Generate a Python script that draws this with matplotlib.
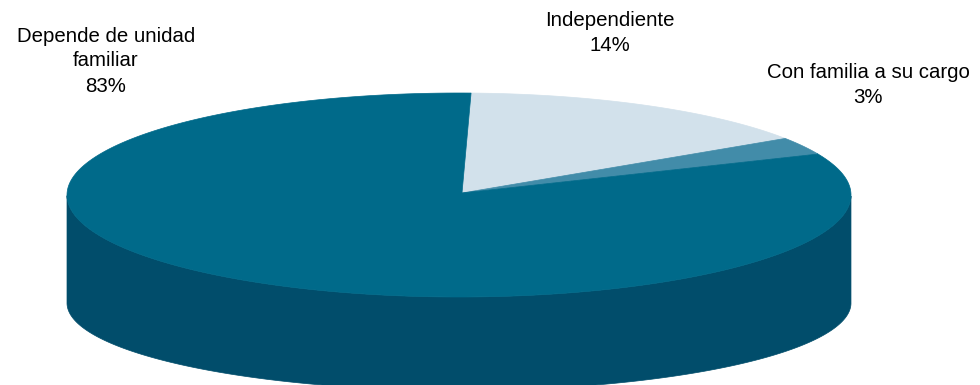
import numpy as np
import matplotlib
matplotlib.use('Agg')
import matplotlib.pyplot as plt
from matplotlib.patches import Polygon

# slices, clockwise from the top
categories = ['Independiente', 'Con familia a su cargo', 'Depende de unidad\nfamiliar']
values = [14, 3, 83]
top_colors = ['#d2e1eb', '#428ca9', '#006a8a']
side_colors = ['#a9bcc8', '#2f6c85', '#014d6b']

plt.rcParams['font.family'] = ['Liberation Sans', 'DejaVu Sans']

W, H = 980, 385
cx, cy = 459, 195          # centre of the top face
rx, ry = 392, 102          # top face radii
cyb, ryb = 303, 87.5       # bottom rim
start = 88.5               # angle of first slice edge (deg)
K = 0.85                   # foreshortening of the pie angles


def pie_angles(t0, t1, n=300):
    t = np.radians(np.linspace(t0, t1, n))
    return np.unwrap(np.arctan2(K * np.sin(t), np.cos(t)))


fig = plt.figure(figsize=(W / 100, H / 100), dpi=100)
ax = fig.add_axes([0, 0, 1, 1])
ax.set_xlim(0, W)
ax.set_ylim(H, 0)
ax.axis('off')

total = float(sum(values))
edges = [start]
for v in values:
    edges.append(edges[-1] - 360.0 * v / total)

# side walls first (front half only)
for i in range(len(values)):
    phi = pie_angles(edges[i], edges[i + 1])
    front = np.sin(phi) <= 0
    if front.sum() < 2:
        continue
    p = phi[front]
    xs = cx + rx * np.cos(p)
    top = np.column_stack([xs, cy - ry * np.sin(p)])
    bot = np.column_stack([xs, cyb - ryb * np.sin(p)])
    pts = np.vstack([top, bot[::-1]])
    ax.add_patch(Polygon(pts, closed=True, fc=side_colors[i], ec=side_colors[i], lw=0.5))

# top faces
for i in range(len(values)):
    phi = pie_angles(edges[i], edges[i + 1])
    pts = np.column_stack([cx + rx * np.cos(phi), cy - ry * np.sin(phi)])
    pts = np.vstack([[cx + 3, cy - 2], pts])
    ax.add_patch(Polygon(pts, closed=True, fc=top_colors[i], ec=top_colors[i], lw=0.5))

# labels
label_pos = [(610, 33), (868, 85), (106, 61)]
for name, v, (lx, ly) in zip(categories, values, label_pos):
    ax.text(lx, ly, f'{name}\n{v}%', ha='center', va='center',
            fontsize=14.7, linespacing=1.4, color='#000000')

fig.savefig('out.png', dpi=100)
